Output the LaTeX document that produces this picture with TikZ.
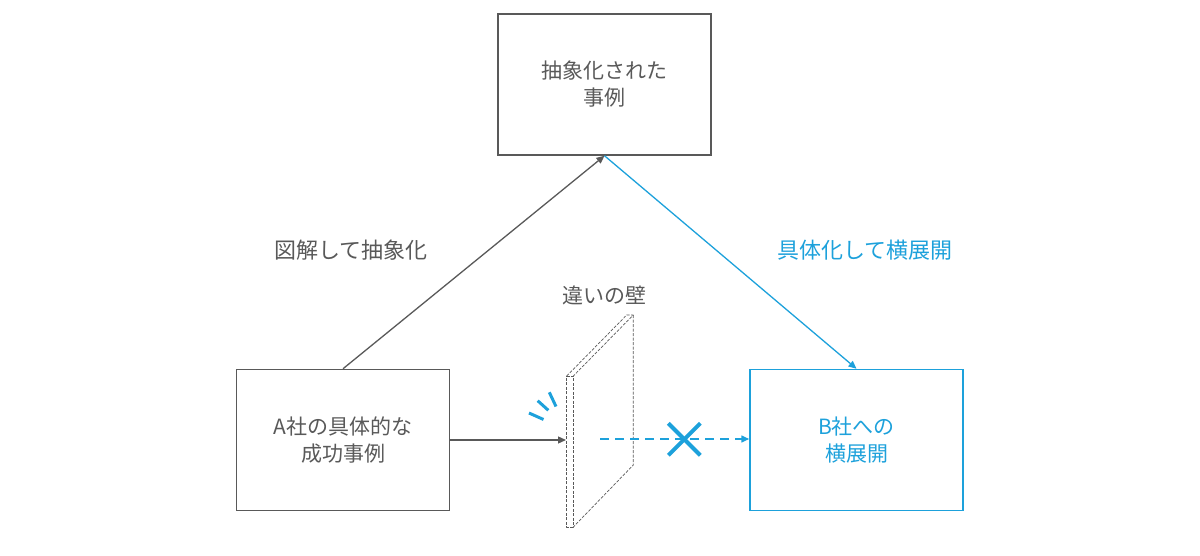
\documentclass[tikz,border=0pt]{standalone}
\usepackage{fontspec}
\setmainfont{Noto Sans CJK JP}
\usetikzlibrary{arrows.meta}
\definecolor{dg}{RGB}{89,89,89}
\definecolor{bl}{RGB}{29,161,219}
\begin{document}
\begin{tikzpicture}[x=1pt,y=-1pt,
  box/.style={draw=dg, line width=1.5pt, minimum width=213pt, minimum height=141pt, inner sep=0pt, align=center, font=\fontsize{21}{27}\selectfont, text=dg},
  lbl/.style={font=\fontsize{22}{26}\selectfont, text=dg, inner sep=0pt},
  arr/.style={draw=dg, line width=1.3pt, -{Triangle[length=8pt,width=7pt]}},
  arrb/.style={draw=bl, line width=1.3pt, -{Triangle[length=8pt,width=7pt]}},
  dasharr/.style={draw=bl, line width=1.5pt, dash pattern=on 9pt off 6pt, -{Triangle[length=8pt,width=7pt]}},
  wall/.style={draw=dg, line width=0.7pt, dash pattern=on 3pt off 1.5pt, line join=round},
  hit/.style={draw=bl, line width=3pt},
  cross/.style={draw=bl, line width=4pt}]
\useasboundingbox (0,0) rectangle (1200,556);
\node[box] (top) at (604.5,84.5) {抽象化された\\事例};
\node[box] (a) at (343,440) {A社の具体的な\\成功事例};
\node[box, draw=bl, text=bl] (b) at (856.5,440) {B社への\\横展開};
\node[lbl] (l1) at (351,250) {図解して抽象化};
\node[lbl, text=bl] (l2) at (865,250) {具体化して横展開};
\node[lbl, font=\fontsize{21}{26}\selectfont] (l3) at (604,295) {違いの壁};
% wall
\coordinate (w1) at (566.7,376);
\coordinate (w2) at (573.3,376);
\coordinate (w3) at (573.3,527);
\coordinate (w4) at (566.7,527);
\coordinate (w5) at (626.7,315);
\coordinate (w6) at (633.3,315);
\coordinate (w7) at (633.3,465);
\draw[wall] (w1) -- (w2) -- (w3) -- (w4) -- cycle;
\draw[wall] (w1) -- (w5) -- (w6) -- (w2);
\draw[wall] (w6) -- (w7) -- (w3);
% arrows
\draw[arr] (a.north) -- (top.south);
\draw[arrb] (top.south) -- (b.north);
\coordinate (hitpt) at (566,440);
\draw[arr] (a.east) -- (hitpt);
\coordinate (ds) at (600,439);
\coordinate (de) at (b.west |- ds);
\draw[dasharr] (ds) -- (de);
% impact lines
\draw[hit] (529,413) -- (543.5,419.5);
\draw[hit] (537.7,400.7) -- (548.3,410.3);
\draw[hit] (549.3,392.3) -- (556,406.5);
% cross
\draw[cross] (668.3,423.3) -- (700.3,455.3);
\draw[cross] (668.3,455.3) -- (700.3,423.3);
\end{tikzpicture}
\end{document}
